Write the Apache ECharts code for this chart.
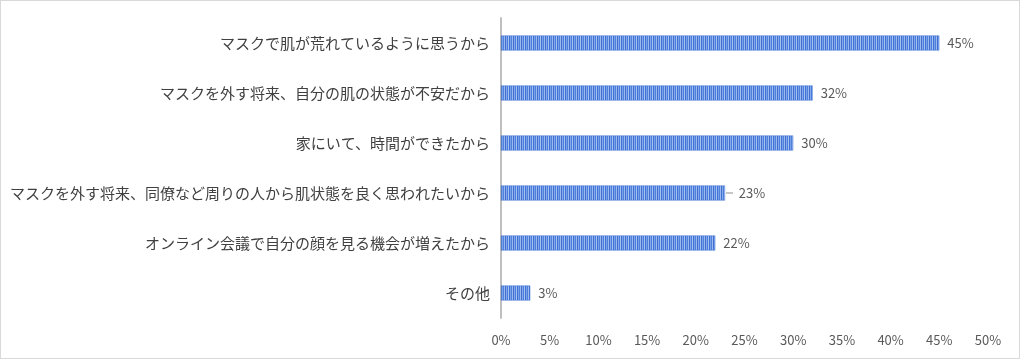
<!DOCTYPE html>
<html><head><meta charset="utf-8">
<script src="https://cdn.jsdelivr.net/npm/echarts@6/dist/echarts.min.js"></script>
<style>
html,body{margin:0;padding:0;background:#fff;}
#c{width:1018px;height:357px;border:1px solid #d9d9d9;}
</style></head><body>
<div id="c"></div>
<script>
const categories = [
  'マスクで肌が荒れているように思うから',
  'マスクを外す将来、自分の肌の状態が不安だから',
  '家にいて、時間ができたから',
  'マスクを外す将来、同僚など周りの人から肌状態を良く思われたいから',
  'オンライン会議で自分の顔を見る機会が増えたから',
  'その他'
];
const values = [45, 32, 30, 23, 22, 3];
const valueLabels = ['45%', '32%', '30%', '23%', '22%', '3%'];

function makePattern(){
  const cv = document.createElement('canvas');
  cv.width = 8; cv.height = 4;
  const ctx = cv.getContext('2d');
  const cols = ['#3f70d0','#86a9ea','#4a7ddc','#a7c2f2','#3f72d2','#7aa0e8','#4f82dc','#9db9ef'];
  cols.forEach((c,i)=>{ctx.fillStyle=c;ctx.fillRect(i,0,1,4);});
  return cv;
}

const barData = values.map((v,i)=> i===3
  ? {value:v, label:{distance:1, formatter:'{ln|}  ' + valueLabels[i]}}
  : {value:v});

const chart = echarts.init(document.getElementById('c'));
chart.setOption({
  animation:false,
  grid:{left:500, right:31, top:17, height:300, containLabel:false},
  xAxis:{
    type:'value', min:0, max:50, interval:5,
    axisLabel:{formatter:'{value}%', color:'#595959', fontSize:13, fontFamily:'Noto Sans CJK JP', margin:16},
    splitLine:{show:false}, axisLine:{show:false}, axisTick:{show:false}
  },
  yAxis:{
    type:'category', inverse:true, data:categories,
    axisLine:{show:true, lineStyle:{color:'#bfbfbf', width:2}},
    axisTick:{show:false},
    axisLabel:{color:'#404040', fontSize:15, fontFamily:'Noto Sans CJK JP', margin:11}
  },
  series:[{
    type:'bar', data:barData, barWidth:15,
    itemStyle:{color:{image:makePattern(), repeat:'repeat'}, borderColor:'#3f70d0', borderWidth:0.5},
    label:{show:true, position:'right', distance:8, color:'#595959', fontSize:13, fontFamily:'Noto Sans CJK JP',
      formatter:p=>valueLabels[p.dataIndex],
      rich:{ln:{width:7, height:1, backgroundColor:'#8c8c8c'}}}
  }]
});
</script></body></html>
